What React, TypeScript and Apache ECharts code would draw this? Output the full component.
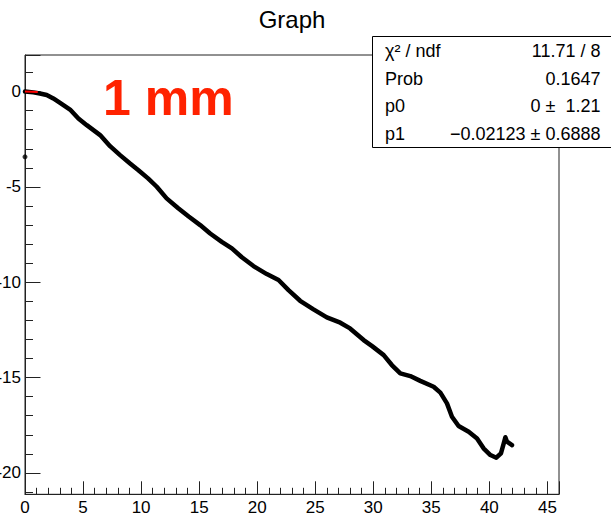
import React, { useEffect, useRef } from 'react';
import * as echarts from 'echarts';

const traceX = [
  0.0, 0.72, 1.29, 1.87, 2.44, 3.02, 3.88, 4.6, 5.32, 6.47, 7.33, 8.19, 9.05, 9.77,
  10.6, 11.35, 12.2, 13.2, 14.1, 15.09, 15.95, 16.95, 17.82, 18.68, 19.68, 20.83,
  21.84, 22.7, 23.7, 24.85, 26.0, 27.16, 28.0, 29.17, 29.9, 30.9, 31.6, 32.33, 33.19,
  34.05, 35.2, 35.78, 36.35, 36.78, 37.35, 38.22, 38.94, 39.5, 40.09, 40.6, 41.0,
  41.24, 41.38, 41.52, 41.95,
];
const traceY = [
  0.0, -0.04, -0.1, -0.18, -0.36, -0.59, -0.94, -1.41, -1.76, -2.28, -2.86, -3.33,
  -3.77, -4.12, -4.55, -4.99, -5.6, -6.12, -6.55, -7.0, -7.44, -7.88, -8.22, -8.69,
  -9.15, -9.57, -9.88, -10.41, -10.97, -11.42, -11.84, -12.12, -12.42, -13.03, -13.35,
  -13.82, -14.34, -14.78, -14.92, -15.17, -15.48, -15.79, -16.35, -17.05, -17.54,
  -17.84, -18.19, -18.71, -19.06, -19.2, -18.97, -18.45, -18.13, -18.36, -18.54,
];
const outlierX = [0.0];
const outlierY = [-3.42];

// Fit parameters (pol1)
const fitP0 = 0;
const fitP1 = -0.02123;
const fitRange = [0, 1.1];

// Axis ranges
const xRange = [0, 46];
const yRange = [-21.12, 1.92];

// Stats box contents
const statsLabels = ['χ² / ndf', 'Prob', 'p0', 'p1'];
const statsValues = ['11.71 / 8', '0.1647', '0 ±  1.21', '−0.02123 ± 0.6888'];

const titleText = 'Graph';
const annotation = '1 mm';

const FONT = '"Liberation Sans", Arial, Helvetica, sans-serif';
const AX = '#222';

export default function App() {
  const ref = useRef<HTMLDivElement>(null);
  useEffect(() => {
    if (!ref.current) return;
    const chart = echarts.init(ref.current, undefined, { renderer: 'svg' });
    const trace = traceX.map((x, i) => [x, traceY[i]]);
    const outliers = outlierX.map((x, i) => [x, outlierY[i]]);
    const fit = fitRange.map((x) => [x, fitP0 + fitP1 * x]);

    const rowY = [50.5, 78.5, 106, 133.5];
    const statsGraphics: any[] = [];
    statsLabels.forEach((t, i) => {
      statsGraphics.push({
        type: 'text', x: 385, y: rowY[i], z: 102,
        style: { text: t, fontSize: 18, fontFamily: FONT, fill: '#000',
          align: 'left', textAlign: 'left', verticalAlign: 'middle', textVerticalAlign: 'middle' },
      });
      statsGraphics.push({
        type: 'text', x: 600.5, y: rowY[i], z: 102,
        style: { text: statsValues[i], fontSize: 18, fontFamily: FONT, fill: '#000',
          align: 'right', textAlign: 'right', verticalAlign: 'middle', textVerticalAlign: 'middle' },
      });
    });

    const option: any = {
      animation: false,
      backgroundColor: '#ffffff',
      grid: {
        left: 25, right: 52, top: 55, bottom: 24.7,
        show: true, borderColor: AX, borderWidth: 1, backgroundColor: 'transparent',
        containLabel: false, outerBoundsMode: 'none',
      },
      xAxis: {
        type: 'value', min: xRange[0], max: xRange[1], interval: 5,
        splitLine: { show: false },
        axisLine: { show: true, onZero: false, lineStyle: { color: AX, width: 1 } },
        axisTick: { show: true, inside: true, length: 13, lineStyle: { color: AX, width: 1 } },
        minorTick: { show: true, splitNumber: 5, length: 6.5, lineStyle: { color: AX, width: 1 } },
        minorSplitLine: { show: false },
        axisLabel: {
          margin: 5, fontSize: 17, color: '#000', fontFamily: FONT,
          showMaxLabel: false,
          formatter: (v: number) => (Math.abs(v % 5) < 1e-9 ? String(v) : ''),
        },
      },
      yAxis: {
        type: 'value', min: yRange[0], max: yRange[1], splitNumber: 5,
        splitLine: { show: false },
        axisLine: { show: true, onZero: false, lineStyle: { color: AX, width: 1 } },
        axisTick: { show: true, inside: true, length: 15.5, lineStyle: { color: AX, width: 1 } },
        minorTick: { show: true, splitNumber: 5, length: 8, lineStyle: { color: AX, width: 1 } },
        minorSplitLine: { show: false },
        axisLabel: {
          margin: 4, fontSize: 17, color: '#000', fontFamily: FONT,
          showMinLabel: false, showMaxLabel: false,
          formatter: (v: number) => (Math.abs(v % 5) < 1e-9 ? String(v) : ''),
        },
      },
      series: [
        {
          type: 'line', data: trace, symbol: 'none', showSymbol: false, z: 2,
          lineStyle: { color: '#000', width: 4.5, cap: 'round', join: 'round' },
        },
        {
          type: 'scatter', data: outliers, symbolSize: 5, z: 2,
          itemStyle: { color: '#000' },
        },
        {
          type: 'line', data: fit, symbol: 'none', showSymbol: false, z: 3,
          lineStyle: { color: '#ff0000', width: 2 },
        },
      ],
      graphic: [
        {
          type: 'text', x: 292, y: 19, z: 100,
          style: { text: titleText, fontSize: 24, fontFamily: FONT, fill: '#000',
            align: 'center', textAlign: 'center', verticalAlign: 'middle', textVerticalAlign: 'middle' },
        },
        {
          type: 'text', x: 103, y: 98, z: 100,
          style: { text: annotation, fontSize: 50, fontWeight: 'bold', fontFamily: FONT, fill: '#ff2200',
            align: 'left', textAlign: 'left', verticalAlign: 'middle', textVerticalAlign: 'middle' },
        },
        {
          type: 'rect', z: 101,
          shape: { x: 372.5, y: 36.5, width: 260, height: 111 },
          style: { fill: '#ffffff', stroke: '#000', lineWidth: 1 },
        },
        ...statsGraphics,
      ],
    };
    chart.setOption(option);
    return () => chart.dispose();
  }, []);
  return (
    <div
      ref={ref}
      style={{ position: 'fixed', left: 0, top: 0, width: 611, height: 519, background: '#fff' }}
    />
  );
}
